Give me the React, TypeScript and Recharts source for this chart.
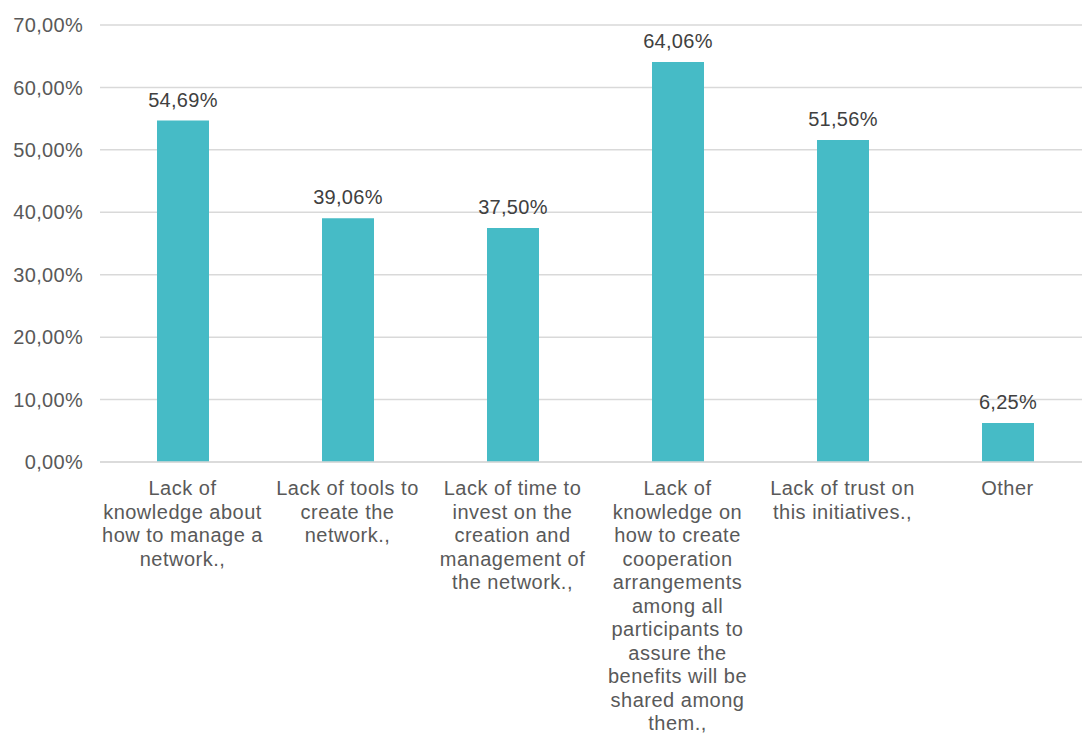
import { Bar, BarChart, CartesianGrid, LabelList, XAxis, YAxis } from "recharts";

const categories = [
  "Lack of\nknowledge about\nhow to manage a\nnetwork.,",
  "Lack of tools to\ncreate the\nnetwork.,",
  "Lack of time to\ninvest on the\ncreation and\nmanagement of\nthe network.,",
  "Lack of\nknowledge on\nhow to create\ncooperation\narrangements\namong all\nparticipants to\nassure the\nbenefits will be\nshared among\nthem.,",
  "Lack of trust on\nthis initiatives.,",
  "Other",
];
const values = [54.69, 39.06, 37.5, 64.06, 51.56, 6.25];
const yTicks = [0, 10, 20, 30, 40, 50, 60, 70];

const fmt = (v: number) => v.toFixed(2).replace(".", ",") + "%";

const FONT = "'Liberation Sans', Arial, sans-serif";

function CategoryTick(props: any) {
  const { x, y, payload } = props;
  const lines = String(payload.value).split("\n");
  return (
    <text
      x={x}
      y={y + 25}
      textAnchor="middle"
      fill="#595959"
      fontSize={20}
      letterSpacing={0.5}
      fontFamily={FONT}
    >
      {lines.map((line, i) => (
        <tspan key={i} x={x} dy={i === 0 ? 0 : 23.5}>
          {line}
        </tspan>
      ))}
    </text>
  );
}

export default function App() {
  const data = categories.map((name, i) => ({ name, value: values[i] }));
  return (
    <div
      style={{
        position: "absolute",
        left: 0,
        top: 0,
        width: 1082,
        height: 738,
        overflow: "hidden",
        background: "#fff",
      }}
    >
      <BarChart
        width={1090}
        height={738}
        data={data}
        margin={{ top: 25, right: 0, bottom: 0, left: 0 }}
      >
        <CartesianGrid vertical={false} stroke="#d9d9d9" strokeWidth={1.5} />
        <XAxis
          dataKey="name"
          interval={0}
          height={276}
          tick={<CategoryTick />}
          tickLine={false}
          axisLine={{ stroke: "#d9d9d9", strokeWidth: 1.5 }}
        />
        <YAxis
          domain={[0, 70]}
          ticks={yTicks}
          width={100}
          tickFormatter={fmt}
          tickLine={false}
          axisLine={false}
          tickMargin={11}
          tick={{ fill: "#595959", fontSize: 20, fontFamily: FONT, letterSpacing: 0.3 }}
        />
        <Bar dataKey="value" fill="#46bbc6" barSize={52} isAnimationActive={false}>
          <LabelList
            dataKey="value"
            position="top"
            offset={14}
            formatter={(v: any) => fmt(Number(v))}
            fill="#404040"
            fontSize={20}
            letterSpacing={0.3}
            fontFamily={FONT}
          />
        </Bar>
      </BarChart>
    </div>
  );
}
